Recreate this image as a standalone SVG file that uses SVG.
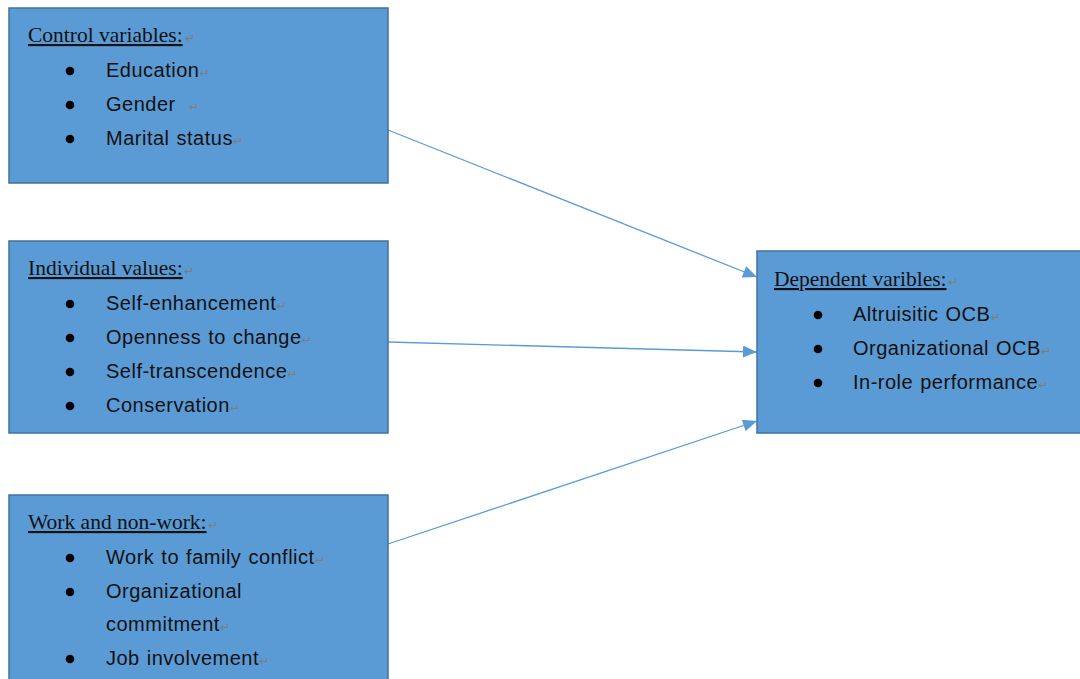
<svg xmlns="http://www.w3.org/2000/svg" width="1080" height="679" viewBox="0 0 1080 679">
<defs>
<style>
.box{fill:#5B9BD5;stroke:#41719C;stroke-width:1.5}
.hd{font-family:"Liberation Serif",serif;font-size:21.5px;fill:#111;text-decoration:underline}
.it{font-family:"Liberation Sans",Arial,sans-serif;font-size:20px;fill:#111;letter-spacing:0.5px;word-spacing:1px}
.pm{font-family:"DejaVu Sans",sans-serif;font-size:12px;fill:#7d7d7d;text-decoration:none;letter-spacing:0}
.bl{fill:#000}
.cn{stroke:#5B9BD5;stroke-width:1.3;fill:none}
</style>
<marker id="ah2" viewBox="0 0 14 12" refX="14" refY="6" markerWidth="15" markerHeight="12" markerUnits="userSpaceOnUse" orient="auto">
<path d="M0,0 L14,6 L0,12 z" fill="#5B9BD5"/>
</marker>
</defs>
<rect width="1080" height="679" fill="#fff"/>

<g id="connectors">
<line class="cn" x1="388" y1="130" x2="757" y2="277" marker-end="url(#ah2)"/>
<line class="cn" x1="388" y1="342" x2="757" y2="352" marker-end="url(#ah2)"/>
<line class="cn" x1="388" y1="544" x2="757" y2="421" marker-end="url(#ah2)"/>
</g>

<g id="control">
<rect class="box" x="9" y="8" width="379" height="175"/>
<text class="hd" x="28" y="42">Control variables:</text><text class="pm" x="185" y="42">↵</text>
<circle class="bl" cx="70" cy="71" r="4.3"/>
<circle class="bl" cx="70" cy="105" r="4.3"/>
<circle class="bl" cx="70" cy="139" r="4.3"/>
<text class="it" x="106" y="77">Education<tspan class="pm">↵</tspan></text>
<text class="it" x="106" y="111">Gender <tspan class="pm" dx="6">↵</tspan></text>
<text class="it" x="106" y="145">Marital status<tspan class="pm">↵</tspan></text>
</g>

<g id="individual">
<rect class="box" x="9" y="241" width="379" height="192"/>
<text class="hd" x="28" y="275">Individual values:</text><text class="pm" x="184" y="275">↵</text>
<circle class="bl" cx="70" cy="304" r="4.3"/>
<circle class="bl" cx="70" cy="338" r="4.3"/>
<circle class="bl" cx="70" cy="372" r="4.3"/>
<circle class="bl" cx="70" cy="406" r="4.3"/>
<text class="it" x="106" y="310">Self-enhancement<tspan class="pm">↵</tspan></text>
<text class="it" x="106" y="344">Openness to change<tspan class="pm">↵</tspan></text>
<text class="it" x="106" y="378">Self-transcendence<tspan class="pm">↵</tspan></text>
<text class="it" x="106" y="412">Conservation<tspan class="pm">↵</tspan></text>
</g>

<g id="work">
<rect class="box" x="9" y="495" width="379" height="190"/>
<text class="hd" x="28" y="529">Work and non-work:</text><text class="pm" x="208" y="529">↵</text>
<circle class="bl" cx="70" cy="558" r="4.3"/>
<circle class="bl" cx="70" cy="592" r="4.3"/>
<circle class="bl" cx="70" cy="659" r="4.3"/>
<text class="it" x="106" y="564">Work to family conflict<tspan class="pm">↵</tspan></text>
<text class="it" x="106" y="598">Organizational</text>
<text class="it" x="106" y="631">commitment<tspan class="pm">↵</tspan></text>
<text class="it" x="106" y="665">Job involvement<tspan class="pm">↵</tspan></text>
</g>

<g id="dependent">
<rect class="box" x="757" y="251" width="330" height="182"/>
<text class="hd" x="774" y="286">Dependent varibles:</text><text class="pm" x="948" y="286">↵</text>
<circle class="bl" cx="818" cy="315" r="4.3"/>
<circle class="bl" cx="818" cy="349" r="4.3"/>
<circle class="bl" cx="818" cy="383" r="4.3"/>
<text class="it" x="853" y="321">Altruisitic  OCB<tspan class="pm">↵</tspan></text>
<text class="it" x="853" y="355">Organizational OCB<tspan class="pm">↵</tspan></text>
<text class="it" x="853" y="389">In-role performance<tspan class="pm">↵</tspan></text>
</g>
</svg>
